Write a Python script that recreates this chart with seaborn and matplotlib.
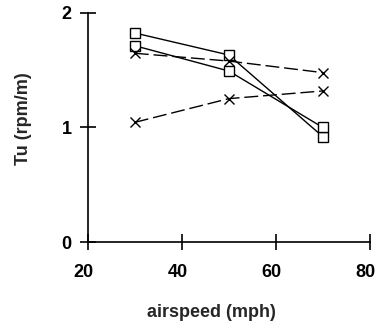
import matplotlib
matplotlib.use("Agg")
import matplotlib.pyplot as plt
import matplotlib.transforms as mtransforms
import seaborn as sns
import pandas as pd

sns.set_style("ticks")
plt.rcParams["font.family"] = ["Liberation Sans", "DejaVu Sans"]
plt.rcParams["font.weight"] = "bold"

airspeed = [30, 50, 70]
square_a = [1.825, 1.633, 0.92]
square_b = [1.714, 1.493, 1.0]
cross_c = [1.648, 1.58, 1.479]
cross_d = [1.045, 1.252, 1.319]

series = [
    ("A", square_a, "s", None),
    ("B", square_b, "s", None),
    ("C", cross_c, "x", (10, 3.5)),
    ("D", cross_d, "x", (10, 3.5)),
]

fig = plt.figure(figsize=(3.77, 3.24), dpi=100)
ax = fig.add_axes([0.233, 0.253, 0.748, 0.707])

for name, vals, mk, dash in series:
    df = pd.DataFrame({"airspeed": airspeed, "Tu": vals})
    sns.lineplot(data=df, x="airspeed", y="Tu", ax=ax, color="black",
                 linewidth=1.0, marker=mk, markersize=6.5 if mk == "s" else 7.5,
                 markerfacecolor="white", markeredgecolor="black",
                 markeredgewidth=1.0)
    if dash is not None:
        ax.lines[-1].set_dashes(dash)

ax.set_xlim(20, 80)
ax.set_ylim(0, 2)
ax.set_xticks([20, 40, 60, 80])
ax.set_yticks([0, 1, 2])
sns.despine(ax=ax)
for s in ("left", "bottom"):
    ax.spines[s].set_linewidth(1.2)
    ax.spines[s].set_color("black")
ax.tick_params(axis="both", direction="inout", length=11, width=1.2,
               labelsize=13, colors="black")
ax.tick_params(axis="x", pad=10)
ax.tick_params(axis="y", pad=6)

# nudge x tick labels slightly left of their ticks
shift = mtransforms.ScaledTranslation(-4 / 100, 0, fig.dpi_scale_trans)
for lbl in ax.get_xticklabels():
    lbl.set_transform(lbl.get_transform() + shift)

ax.set_xlabel("airspeed (mph)", fontsize=13, fontweight="bold")
ax.set_ylabel("Tu (rpm/m)", fontsize=13, fontweight="bold")
ax.xaxis.set_label_coords(0.44, -0.27)
ax.yaxis.set_label_coords(-0.198, 0.54)

fig.savefig("out.png", dpi=100)
